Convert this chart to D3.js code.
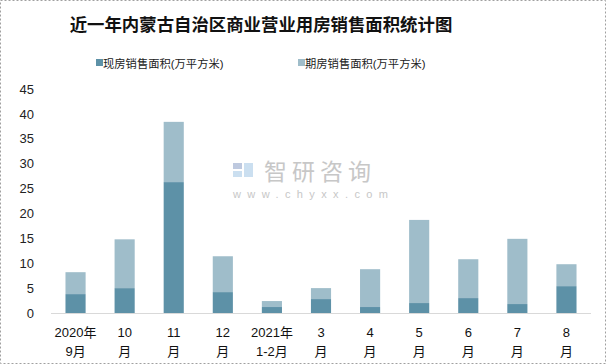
<!DOCTYPE html>
<html><head><meta charset="utf-8">
<script src="https://cdn.jsdelivr.net/npm/d3@7"></script>
<style>
html,body{margin:0;padding:0;background:#fff;}
svg{display:block;}
</style>
</head><body>
<svg id="c" width="606" height="364"></svg>
<script>
const categories = ["2020年\n9月","10\n月","11\n月","12\n月","2021年\n1-2月","3\n月","4\n月","5\n月","6\n月","7\n月","8\n月"];
const spotValues = [3.8, 5.0, 26.3, 4.2, 1.2, 2.8, 1.2, 2.0, 3.0, 1.8, 5.4];
const totalValues = [8.2, 14.8, 38.4, 11.4, 2.4, 5.0, 8.8, 18.7, 10.8, 14.9, 9.8];
const futureValues = totalValues.map((t,i)=>+(t - spotValues[i]).toFixed(1));
const seriesNames = ["现房销售面积(万平方米)","期房销售面积(万平方米)"];
const yTicks = [0,5,10,15,20,25,30,35,40,45];
const colors = ["#5d91a7","#9fbdca"];
const font = "'Liberation Sans', 'Noto Sans CJK SC', sans-serif";

const svg = d3.select("#c");
svg.append("rect").attr("x",0.5).attr("y",0.5).attr("width",605).attr("height",363)
  .attr("fill","#fff").attr("stroke","#a0a0a0").attr("stroke-dasharray","2,2");

svg.append("text").attr("x",261).attr("y",30.5).attr("text-anchor","middle")
  .attr("font-family","'Noto Sans CJK SC', sans-serif").attr("font-weight","bold")
  .attr("font-size",17.4).attr("fill","#111").text("近一年内蒙古自治区商业营业用房销售面积统计图");

// legend
const leg = [{x:96,name:seriesNames[0],c:colors[0]},{x:298,name:seriesNames[1],c:colors[1]}];
leg.forEach(l=>{
  svg.append("rect").attr("x",l.x).attr("y",59).attr("width",7).attr("height",7).attr("fill",l.c);
  svg.append("text").attr("x",l.x+7).attr("y",67.5).attr("font-family",font).attr("font-size",11.3)
    .attr("fill","#222").text(l.name);
});

const x = d3.scaleBand().domain(categories).range([51,591]).paddingInner(0.59).paddingOuter(0.295);
const y = d3.scaleLinear().domain([0,45]).range([313,89]);

// watermark
const wm = svg.append("g").attr("opacity",0.9);
wm.append("rect").attr("x",233).attr("y",163).attr("width",9).attr("height",6).attr("fill","#b8c4dc");
wm.append("rect").attr("x",233).attr("y",171).attr("width",9).attr("height",6).attr("fill","#c6dcef");
wm.append("rect").attr("x",244).attr("y",163).attr("width",9).attr("height",14).attr("fill","#c6dcef");
wm.append("text").attr("x",264).attr("y",180).attr("font-family","'Noto Sans CJK SC', sans-serif")
  .attr("font-size",23).attr("letter-spacing",5).attr("fill","#c2c2c2").text("智研咨询");
wm.append("text").attr("x",233).attr("y",198).attr("font-family",font)
  .attr("font-size",11).attr("letter-spacing",6.4).attr("fill","#c2c2c2").text("www.chyxx.com");

// bars
const stackData = categories.map((c,i)=>({cat:c, spot:spotValues[i], future:futureValues[i]}));
const stack = d3.stack().keys(["spot","future"])(stackData);
svg.append("g").selectAll("g").data(stack).join("g").attr("fill",(d,i)=>colors[i])
  .selectAll("rect").data(d=>d).join("rect")
  .attr("x",d=>x(d.data.cat)).attr("width",x.bandwidth())
  .attr("y",d=>y(d[1])).attr("height",d=>y(d[0])-y(d[1]));

// axis line
svg.append("line").attr("x1",51).attr("x2",591).attr("y1",313.5).attr("y2",313.5)
  .attr("stroke","#d9d9d9").attr("stroke-width",1);

// y axis
const ya = svg.append("g").attr("transform","translate(34,0)")
  .call(d3.axisLeft(y).tickValues(yTicks).tickSize(0).tickPadding(0));
ya.select(".domain").remove();
ya.selectAll("text").attr("font-family",font).attr("font-size",13).attr("fill","#222");

// x axis
const xa = svg.append("g").attr("transform","translate(0,313)")
  .call(d3.axisBottom(x).tickSize(0).tickFormat(""));
xa.select(".domain").remove();
xa.selectAll(".tick").each(function(d){
  const parts = d.split("\n");
  const t = d3.select(this).append("text").attr("font-family",font).attr("font-size",13)
    .attr("fill","#111").attr("text-anchor","middle");
  parts.forEach((p,i)=>t.append("tspan").attr("x",0).attr("y",24+i*19).text(p));
});
</script>
</body></html>
